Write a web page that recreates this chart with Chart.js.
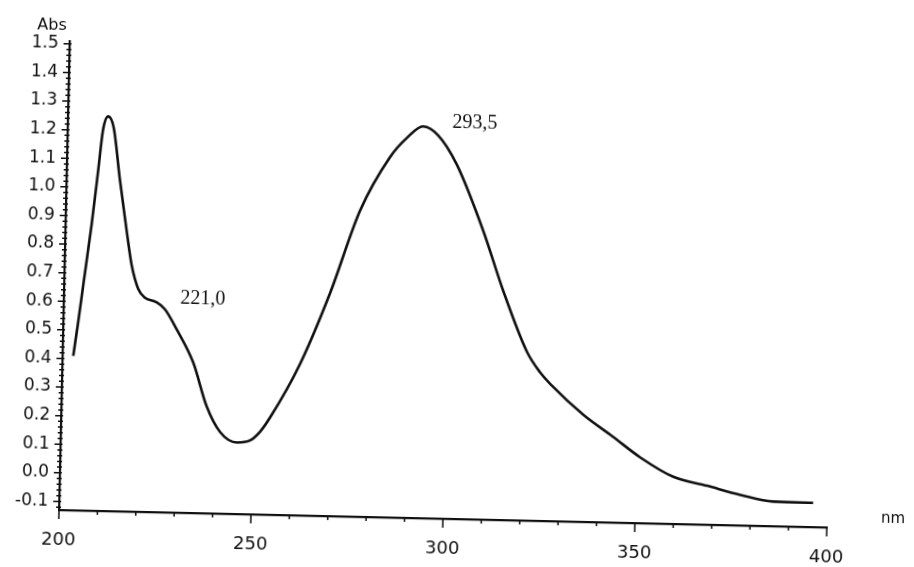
<!DOCTYPE html>
<html>
<head>
<meta charset="utf-8">
<title>UV spectrum</title>
<script src="https://cdn.jsdelivr.net/npm/chart.js@4.4.1/dist/chart.umd.min.js"></script>
<style>
  html, body { margin: 0; padding: 0; background: #fff; overflow: hidden; }
  /* the scanned page is turned a little clockwise */
  #spectrum { display: block; transform-origin: 59px 510px; transform: rotate(1.3deg); }
</style>
</head>
<body>
<canvas id="spectrum" width="914" height="567"></canvas>
<script>
// wavelength (nm) and absorbance
const wavelength = [202.8, 203.9, 205.0, 206.8, 208.2, 209.2, 210.5, 212.0, 213.9, 216.1,
  217.5, 219.3, 221.0, 224.0, 226.4, 229.6, 234.1, 237.8, 241.5, 245.9,
  249.3, 251.9, 254.4, 261.9, 269.3, 276.6, 284.1, 288.5, 292.5, 296.5,
  301.5, 308.8, 314.4, 320.9, 324.4, 327.5, 335.9, 343.8, 351.0, 359.7,
  368.6, 377.3, 385.9, 396.3];
const absorbance = [0.41, 0.53, 0.66, 0.87, 1.06, 1.20, 1.25, 1.21, 1.03, 0.84,
  0.73, 0.65, 0.62, 0.605, 0.58, 0.51, 0.395, 0.245, 0.155, 0.12,
  0.128, 0.16, 0.21, 0.40, 0.65, 0.94, 1.13, 1.20, 1.24, 1.21,
  1.11, 0.88, 0.67, 0.46, 0.39, 0.345, 0.245, 0.17, 0.10, 0.035,
  0.006, -0.023, -0.044, -0.045];

const xTicks = [200, 250, 300, 350, 400];
const yTicks = [-0.1, 0.0, 0.1, 0.2, 0.3, 0.4, 0.5, 0.6, 0.7, 0.8, 0.9, 1.0, 1.1, 1.2, 1.3, 1.4, 1.5];

// peak labels: text, wavelength, absorbance where the text sits
const peakLabels = ['221,0', '293,5'];
const peakLabelX = [236.2, 306];
const peakLabelY = [0.618, 1.257];

const ink = '#101010';

// ruler style tick marks, axis titles and peak labels
const scanDecor = {
  id: 'scanDecor',
  afterDraw(chart) {
    const { ctx, chartArea, scales } = chart;
    const xs = scales.x, ys = scales.y;
    ctx.save();
    ctx.strokeStyle = ink;
    ctx.lineWidth = 1.5;
    ctx.beginPath();
    for (let v = 200; v <= 400; v += 10) {
      const px = xs.getPixelForValue(v);
      const len = v % 50 === 0 ? 9 : 4;
      ctx.moveTo(px, chartArea.bottom);
      ctx.lineTo(px, chartArea.bottom + len);
    }
    for (let i = -6; i <= 75; i++) {
      const v = i * 0.02;
      const py = ys.getPixelForValue(v);
      const major = i % 5 === 0 && i >= -5;
      ctx.moveTo(chartArea.left - (major ? 6 : 3), py);
      ctx.lineTo(chartArea.left + 2, py);
    }
    ctx.stroke();

    ctx.fillStyle = ink;
    ctx.font = '16px "DejaVu Sans"';
    ctx.textAlign = 'center';
    ctx.textBaseline = 'middle';
    ctx.fillText('Abs', chartArea.left - 18, ys.getPixelForValue(1.5) - 18);
    ctx.font = '15px "DejaVu Sans"';
    ctx.fillText('nm', 893, 500);

    ctx.font = '20px "Liberation Serif"';
    peakLabels.forEach((t, i) => {
      ctx.fillText(t, xs.getPixelForValue(peakLabelX[i]), ys.getPixelForValue(peakLabelY[i]));
    });
    ctx.restore();
  }
};

const ctx = document.getElementById('spectrum');
const spectrumChart = new Chart(ctx, {
  type: 'line',
  data: {
    datasets: [{
      data: wavelength.map((w, i) => ({ x: w, y: absorbance[i] })),
      borderColor: ink,
      borderWidth: 2.6,
      pointRadius: 0,
      fill: false,
      cubicInterpolationMode: 'monotone'
    }]
  },
  options: {
    responsive: false,
    animation: false,
    devicePixelRatio: 1,
    layout: { padding: { top: 41, right: 87, left: 0, bottom: 0 } },
    plugins: { legend: { display: false }, tooltip: { enabled: false } },
    scales: {
      x: {
        type: 'linear',
        min: 200,
        max: 400,
        afterBuildTicks: s => { s.ticks = xTicks.map(v => ({ value: v })); },
        afterFit: s => { s.height = 57; },
        grid: { display: false, drawTicks: false },
        border: { display: true, color: ink, width: 2.2 },
        ticks: { color: ink, font: { family: 'DejaVu Sans', size: 18 }, padding: 20, maxRotation: 0 }
      },
      y: {
        min: -0.13,
        max: 1.51,
        afterBuildTicks: s => { s.ticks = yTicks.map(v => ({ value: v })); },
        afterFit: s => { s.width = 59; },
        grid: { display: false, drawTicks: false },
        border: { display: true, color: ink, width: 2.2 },
        ticks: {
          color: ink,
          font: { family: 'DejaVu Sans', size: 17 },
          padding: 11,
          callback: v => v.toFixed(1)
        }
      }
    }
  },
  plugins: [scanDecor]
});
</script>
</body>
</html>
